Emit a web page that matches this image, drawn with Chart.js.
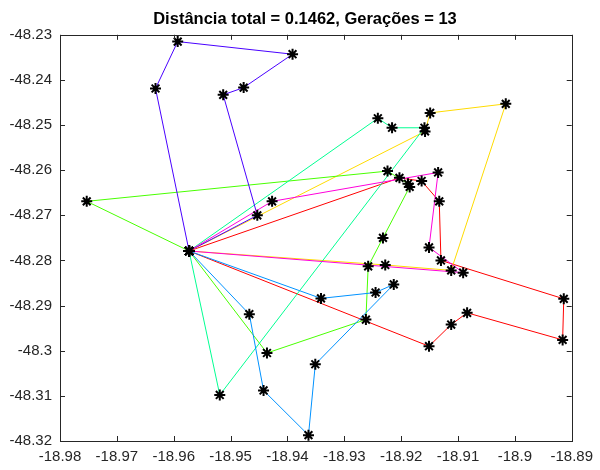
<!DOCTYPE html>
<html>
<head>
<meta charset="utf-8">
<script src="https://cdn.jsdelivr.net/npm/chart.js@4/dist/chart.umd.min.js"></script>
<style>
  html, body { margin: 0; padding: 0; background: #fff; }
</style>
</head>
<body>
<canvas id="graph" width="600" height="470"></canvas>
<script>
// depot (all routes start and end here)
var depot = [-18.9573, -48.2779];

// routes, [lon, lat]
var routeRed = [depot, [-18.9151, -48.2990], [-18.9112, -48.2942], [-18.9084, -48.2916],
    [-18.8916, -48.2976], [-18.8914, -48.2885], [-18.9130, -48.2800], [-18.9133, -48.2669],
    [-18.9164, -48.2624], [-18.9203, -48.2617], depot];
var routeYellow = [depot, [-18.9158, -48.2514], [-18.9149, -48.2473], [-18.9016, -48.2453],
    [-18.9112, -48.2822], [-18.9228, -48.2810], depot];
var routeGreen = [depot, [-18.9753, -48.2669], [-18.9224, -48.2602], [-18.9188, -48.2630],
    [-18.9185, -48.2637], [-18.9232, -48.2750], [-18.9258, -48.2813], [-18.9262, -48.2931],
    [-18.9436, -48.3005], depot];
var routeSpring = [depot, [-18.9241, -48.2485], [-18.9216, -48.2506], [-18.9159, -48.2506],
    [-18.9519, -48.3098], depot];
var routeAzure = [depot, [-18.9341, -48.2884], [-18.9245, -48.2871], [-18.9213, -48.2853],
    [-18.9351, -48.3030], [-18.9363, -48.3187], [-18.9442, -48.3088], [-18.9467, -48.2919], depot];
var routeViolet = [depot, [-18.9632, -48.2419], [-18.9593, -48.2315], [-18.9391, -48.2343],
    [-18.9477, -48.2417], [-18.9513, -48.2433], [-18.9453, -48.2700], depot];
var routeMagenta = [depot, [-18.9427, -48.2669], [-18.9135, -48.2605], [-18.9151, -48.2771],
    [-18.9091, -48.2827], depot];

var routes = [routeRed, routeYellow, routeGreen, routeSpring, routeAzure, routeViolet, routeMagenta];
var routeColors = ['#FF0000', '#FFDB00', '#49FF00', '#00FF92', '#0092FF', '#4900FF', '#FF00DB'];

var xTicks = [-18.98, -18.97, -18.96, -18.95, -18.94, -18.93, -18.92, -18.91, -18.9, -18.89];
var xTickLabels = ['-18.98', '-18.97', '-18.96', '-18.95', '-18.94', '-18.93', '-18.92', '-18.91', '-18.9', '-18.89'];
var yTicks = [-48.32, -48.31, -48.3, -48.29, -48.28, -48.27, -48.26, -48.25, -48.24, -48.23];
var yTickLabels = ['-48.32', '-48.31', '-48.3', '-48.29', '-48.28', '-48.27', '-48.26', '-48.25', '-48.24', '-48.23'];

var titleText = 'Distância total = 0.1462, Gerações = 13';

function toXY(route) {
    return route.map(function (p) { return { x: p[0], y: p[1] }; });
}

var datasets = [];

// stars on top of everything
var allPoints = [];
routes.forEach(function (r) { allPoints = allPoints.concat(toXY(r)); });
datasets.push({
    data: allPoints,
    showLine: false,
    pointStyle: 'star',
    pointRadius: 5.5,
    pointBorderWidth: 2,
    pointBorderColor: '#000',
    pointBackgroundColor: '#000',
    order: 0
});

routes.forEach(function (r, i) {
    datasets.push({
        data: toXY(r),
        showLine: true,
        borderColor: routeColors[i],
        borderWidth: 1,
        pointRadius: 0,
        tension: 0,
        order: routes.length - i   // later routes drawn over earlier ones
    });
});

var axisColor = '#262626';

// MATLAB-like box with inward ticks on all four sides
var boxPlugin = {
    id: 'box',
    beforeDraw: function (chart) {
        // nudge the title centre towards the axes, like MATLAB does
        if (chart.titleBlock) chart.titleBlock.left = 35;
    },
    afterDraw: function (chart) {
        var ctx = chart.ctx;
        var a = chart.chartArea;
        var xs = chart.scales.x, ys = chart.scales.y;
        var len = 5;
        ctx.save();
        ctx.strokeStyle = axisColor;
        ctx.lineWidth = 1;
        ctx.beginPath();
        xTicks.forEach(function (v) {
            var px = Math.round(xs.getPixelForValue(v)) + 0.5;
            ctx.moveTo(px, a.bottom); ctx.lineTo(px, a.bottom - len);
            ctx.moveTo(px, a.top); ctx.lineTo(px, a.top + len);
        });
        yTicks.forEach(function (v) {
            var py = Math.round(ys.getPixelForValue(v)) + 0.5;
            ctx.moveTo(a.left, py); ctx.lineTo(a.left + len, py);
            ctx.moveTo(a.right, py); ctx.lineTo(a.right - len, py);
        });
        ctx.stroke();
        ctx.strokeRect(Math.round(a.left) + 0.5, Math.round(a.top) + 0.5,
            Math.round(a.right - a.left), Math.round(a.bottom - a.top));
        ctx.restore();
    }
};

var fontFamily = '"Liberation Sans", Arial, Helvetica, sans-serif';

new Chart(document.getElementById('graph'), {
    type: 'scatter',
    data: { datasets: datasets },
    options: {
        responsive: false,
        animation: false,
        devicePixelRatio: 1,
        layout: { padding: { left: 0, right: 25, top: 0, bottom: 0 } },
        plugins: {
            legend: { display: false },
            tooltip: { enabled: false },
            title: {
                display: true,
                text: titleText,
                color: '#000',
                font: { family: fontFamily, size: 16.5, weight: 'bold' },
                padding: { top: 10, bottom: 5 }
            }
        },
        scales: {
            x: {
                type: 'linear',
                min: -18.98,
                max: -18.89,
                grid: { display: false, drawTicks: false },
                border: { display: false },
                afterBuildTicks: function (scale) {
                    scale.ticks = xTicks.map(function (v) { return { value: v }; });
                },
                afterFit: function (scale) { scale.height = 29; },
                ticks: {
                    color: axisColor,
                    font: { family: fontFamily, size: 15 },
                    padding: 7,
                    maxRotation: 0,
                    autoSkip: false,
                    callback: function (v, i) { return xTickLabels[i]; }
                }
            },
            y: {
                type: 'linear',
                min: -48.32,
                max: -48.23,
                grid: { display: false, drawTicks: false },
                border: { display: false },
                afterBuildTicks: function (scale) {
                    scale.ticks = yTicks.map(function (v) { return { value: v }; });
                },
                afterFit: function (scale) { scale.width = 60; },
                ticks: {
                    color: axisColor,
                    font: { family: fontFamily, size: 15 },
                    padding: 8,
                    autoSkip: false,
                    callback: function (v, i) { return yTickLabels[i]; }
                }
            }
        }
    },
    plugins: [boxPlugin]
});
</script>
</body>
</html>
